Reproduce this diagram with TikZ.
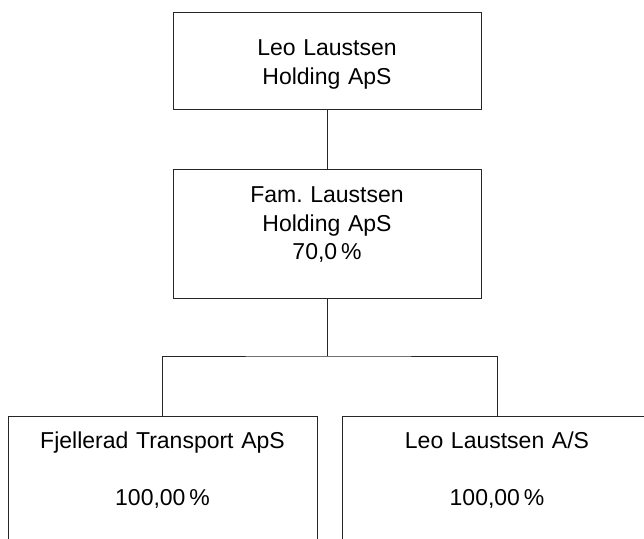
\documentclass[tikz,border=0pt]{standalone}
\usepackage{fontspec}
\setmainfont{Liberation Sans}
\usetikzlibrary{positioning}
\frenchspacing
\tikzset{
    %Define standard font
    font=\fontsize{23pt}{28.5pt}\selectfont,
    %Define style for boxes
    firma/.style={
           rectangle,
           draw=black!85, line width=1pt,
           inner xsep=0pt, inner ysep=0pt,
           align=center,
           anchor=north},
    % Define line style
    linje/.style={
           draw=black!85,
           line width=1pt}
}

\begin{document}
\begin{tikzpicture}[x=1pt,y=-1pt,node distance=59pt]
  \useasboundingbox (0,0) rectangle (644,538);
  \node[firma,text width=308pt,text height=43pt,text depth=54pt] (holding) at (327,12) {Leo Laustsen\\Holding ApS};
  \node[firma,text width=308pt,text height=33pt,text depth=96pt] (fam) [below=of holding] {Fam. Laustsen\\Holding ApS\\70,0\,\%};
  \node[firma,text width=309pt,text height=32pt,text depth=130pt] (fjell) at (162.5,416) {Fjellerad Transport ApS\\[28pt]100,00\,\%};
  \node[firma,text width=310pt,text height=32pt,text depth=130pt] (las) at (497,416) {Leo Laustsen A/S\\[28pt]100,00\,\%};
  \coordinate (split) at (327,356);
  \path[linje]
    (holding) -- (fam)
    (fam) -- (split)
    (fjell.north) |- (split) -| (las.north);
\end{tikzpicture}
\end{document}
